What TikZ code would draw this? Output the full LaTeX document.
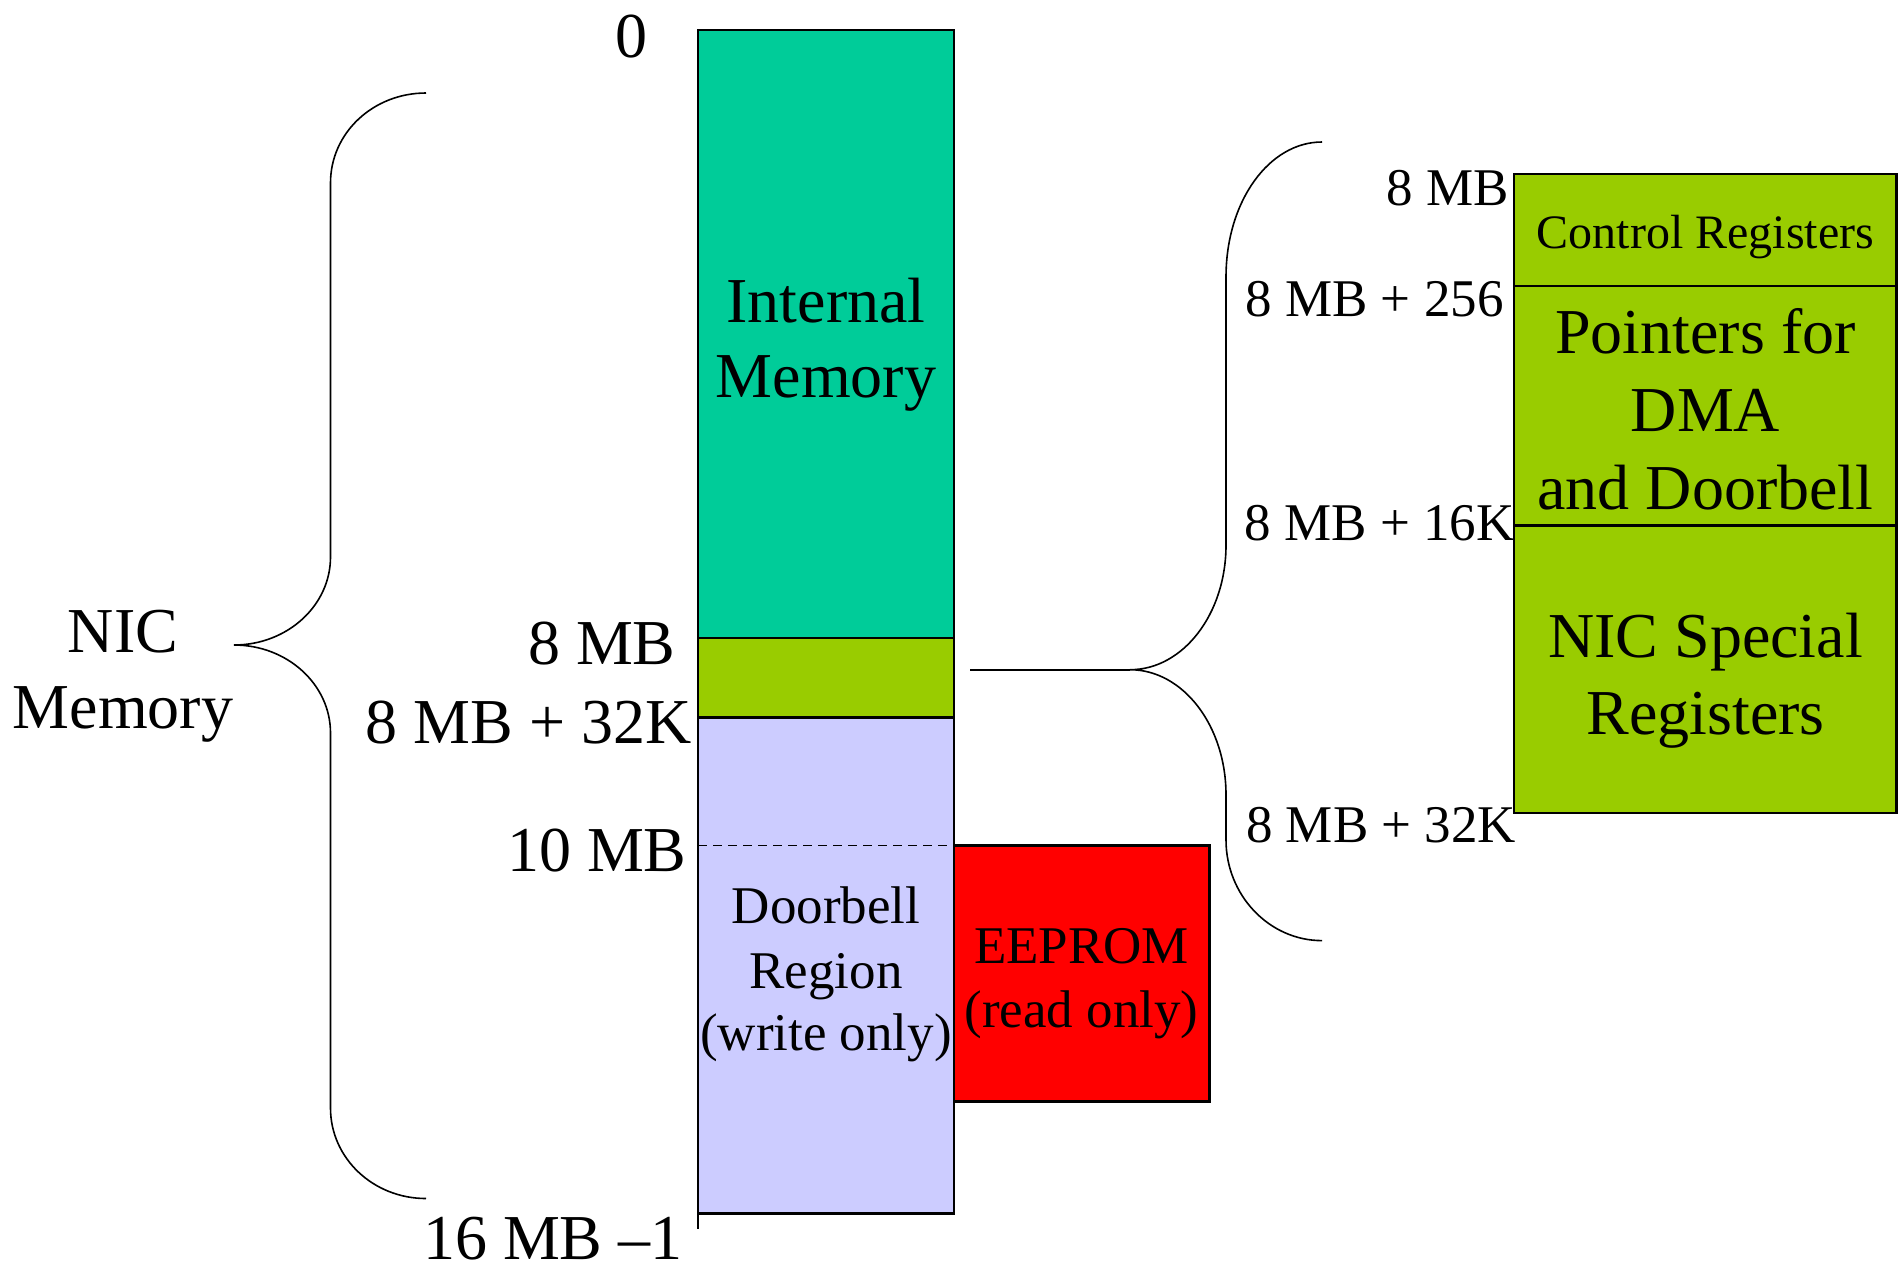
\documentclass[tikz,border=0pt]{standalone}
\usepackage{fontspec}
\setmainfont{Liberation Serif}
\definecolor{intmem}{HTML}{00CC99}
\definecolor{regs}{HTML}{99CC00}
\definecolor{doorbell}{HTML}{CCCCFF}
\definecolor{eeprom}{HTML}{FF0000}
\newcommand{\szbig}{\fontsize{32}{38}\selectfont}
\newcommand{\szmid}{\fontsize{26.5}{32}\selectfont}
\newcommand{\szsmall}{\fontsize{24}{29}\selectfont}
\begin{document}
\begin{tikzpicture}[x=0.5pt,y=-0.5pt,
  region/.style={draw=black,line width=1.1pt},
  bracepath/.style={draw=black,line width=0.8pt},
  addr/.style={inner sep=0pt,anchor=base east},
  addrbig/.style={addr,font=\szbig},
  addrmid/.style={addr,font=\szmid},
  body/.style={inner sep=0pt,anchor=base},
  bodybig/.style={body,font=\szbig},
  bodymid/.style={body,font=\szmid},
  bodysmall/.style={body,font=\szsmall}]
\useasboundingbox (0,0) rectangle (1898,1275);

% ---- main address column -------------------------------------------
\fill[intmem]   (698,30)  rectangle (954,638);
\fill[regs]     (698,638) rectangle (954,717.5);
\fill[doorbell] (698,717.5) rectangle (954,1213.5);
\draw[region] (698,30) rectangle (954,1213.5);
\draw[region] (698,638) -- (954,638);
\draw[region] (698,717.5) -- (954,717.5);
\draw[region] (698,1213.5) -- (698,1228.5);
\draw[line width=0.9pt,dash pattern=on 4.5pt off 3pt] (698,845.5) -- (954,845.5);

% EEPROM window beside the doorbell region
\draw[region,fill=eeprom] (954,845.5) rectangle (1209.5,1101.5);

% ---- register block detail ------------------------------------------
\fill[regs] (1514,174) rectangle (1896.5,813);
\draw[region] (1514,174) rectangle (1896.5,813);
\draw[region] (1514,286) -- (1896.5,286);
\draw[region] (1514,525.5) -- (1896.5,525.5);

% ---- left brace ------------------------------------------------------
\coordinate (ltip) at (234,645);
\draw[bracepath] (426,93) .. controls (373.3,93) and (330.5,132.7) .. (330.5,183)
  -- (330.5,557) .. controls (330.5,605.6) and (287.3,645) .. (ltip)
  .. controls (287.3,645) and (330.5,684.4) .. (330.5,733)
  -- (330.5,1108) .. controls (330.5,1158.3) and (373.3,1198.5) .. (426,1198.5);

% ---- right brace and its lead ----------------------------------------
\coordinate (rtip) at (1130,669.7);
\coordinate (lead) at (970,669.7);
\draw[bracepath] (1322,142) .. controls (1269,142) and (1226,201.4) .. (1226,277)
  -- (1226,545) .. controls (1226,614) and (1183,669.7) .. (rtip)
  .. controls (1183,669.7) and (1226,725.7) .. (1226,795)
  -- (1226,840) .. controls (1226,895) and (1269,940.6) .. (1322,940.6);
\draw[line width=1.1pt] (lead) -- (rtip);

% ---- address labels, left column -------------------------------------
\node[addrbig] (a0)    at (647.5,57)   {0};
\node[addrbig] (a8)    at (676,664)    {8 MB};
\node[addrbig] (a832)  at (692,743)    {8 MB + 32K};
\node[addrbig] (a10)   at (687,871.5)  {10 MB};
\node[addrbig] (a16)   at (683,1259)   {16 MB –1};

% ---- address labels, register block ----------------------------------
\node[addrmid] (r8)    at (1509,205)   {8 MB};
\node[addrmid] (r256)  at (1504,316.5) {8 MB + 256};
\node[addrmid] (r16)   at (1515,540.5) {8 MB + 16K};
\node[addrmid] (r32)   at (1516.5,842) {8 MB + 32K};

% ---- region captions -------------------------------------------------
\node[bodybig] (nic1) at (123,652) {NIC};
\node[bodybig] (nic2) at (123,728) {Memory};

\node[bodybig] (im1) at (826,322) {Internal};
\node[bodybig] (im2) at (826,397) {Memory};

\node[bodymid] (db1) at (826,923)  {Doorbell};
\node[bodymid] (db2) at (826,988)  {Region};
\node[bodymid] (db3) at (826,1050) {(write only)};

\node[bodymid] (ee1) at (1081.5,963)  {EEPROM};
\node[bodymid] (ee2) at (1081.5,1027) {(read only)};

\node[bodysmall] (cr) at (1705.5,248) {Control Registers};

\node[bodybig] (pd1) at (1705.5,353)   {Pointers for};
\node[bodybig] (pd2) at (1705.5,431)   {DMA};
\node[bodybig] (pd3) at (1705.5,509.5) {and Doorbell};

\node[bodybig] (ns1) at (1705.5,657) {NIC Special};
\node[bodybig] (ns2) at (1705.5,734) {Registers};
\end{tikzpicture}
\end{document}
